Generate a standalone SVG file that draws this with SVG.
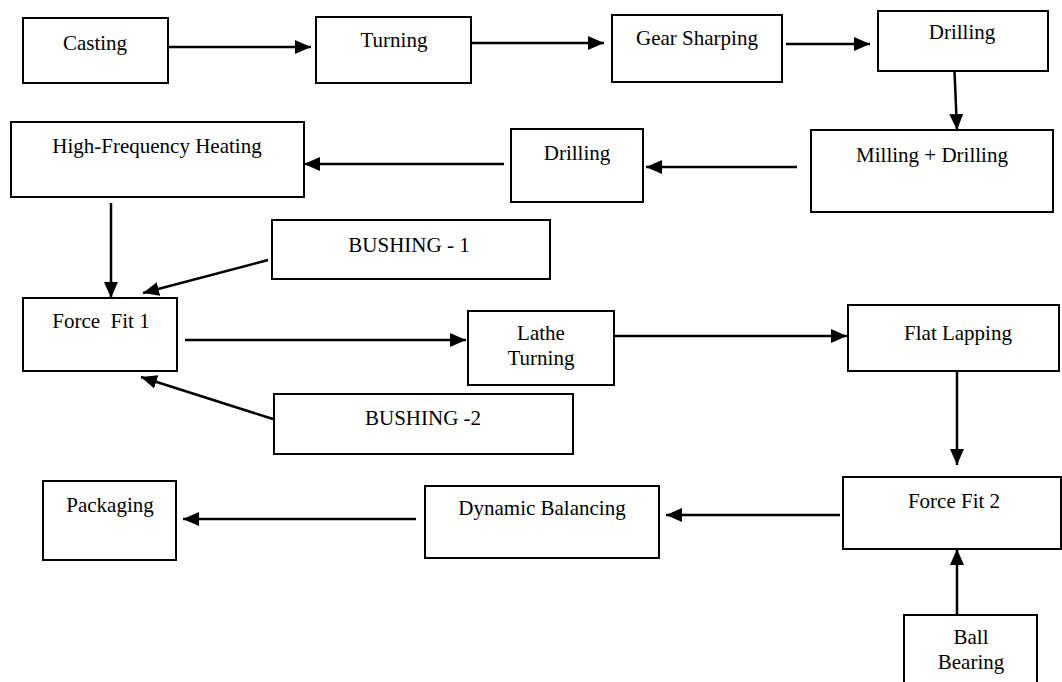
<svg xmlns="http://www.w3.org/2000/svg" width="1062" height="682" viewBox="0 0 1062 682">
  <style>
    .box { fill: #ffffff; stroke: #000000; stroke-width: 2; }
    .lbl { font-family: "Liberation Serif", "Times New Roman", serif; font-size: 21px; fill: #000000; text-anchor: middle; }
    .wire { stroke: #000000; stroke-width: 2.5; fill: none; marker-end: url(#head); }
  </style>
  <defs>
    <marker id="head" markerUnits="userSpaceOnUse" markerWidth="17" markerHeight="15" refX="16" refY="7" orient="auto">
      <path d="M0,0 L16,7 L0,14 Z" fill="#000000"/>
    </marker>
  </defs>
  <rect width="1062" height="682" fill="#ffffff"/>

  <!-- process steps -->
  <g id="casting">
    <rect class="box" x="23" y="18" width="145" height="65"/>
    <text class="lbl" x="95" y="50">Casting</text>
  </g>
  <g id="turning">
    <rect class="box" x="316" y="17" width="155" height="66"/>
    <text class="lbl" x="394" y="47">Turning</text>
  </g>
  <g id="gear-sharping">
    <rect class="box" x="612" y="15" width="170" height="67"/>
    <text class="lbl" x="697" y="45">Gear Sharping</text>
  </g>
  <g id="drilling-1">
    <rect class="box" x="878" y="11" width="170" height="60"/>
    <text class="lbl" x="962" y="39">Drilling</text>
  </g>
  <g id="milling-drilling">
    <rect class="box" x="811" y="130" width="242" height="82"/>
    <text class="lbl" x="932" y="162">Milling + Drilling</text>
  </g>
  <g id="drilling-2">
    <rect class="box" x="511" y="129" width="132" height="73"/>
    <text class="lbl" x="577" y="160">Drilling</text>
  </g>
  <g id="hf-heating">
    <rect class="box" x="11" y="122" width="293" height="75"/>
    <text class="lbl" x="157" y="153">High-Frequency Heating</text>
  </g>
  <g id="bushing-1">
    <rect class="box" x="272" y="220" width="278" height="59"/>
    <text class="lbl" x="409" y="252">BUSHING - 1</text>
  </g>
  <g id="force-fit-1">
    <rect class="box" x="23" y="298" width="154" height="73"/>
    <text class="lbl" x="101" y="328" xml:space="preserve">Force  Fit 1</text>
  </g>
  <g id="bushing-2">
    <rect class="box" x="274" y="394" width="299" height="60"/>
    <text class="lbl" x="423" y="425">BUSHING -2</text>
  </g>
  <g id="lathe-turning">
    <rect class="box" x="468" y="311" width="146" height="74"/>
    <text class="lbl" x="541" y="340">Lathe</text>
    <text class="lbl" x="541" y="365">Turning</text>
  </g>
  <g id="flat-lapping">
    <rect class="box" x="848" y="305" width="211" height="66"/>
    <text class="lbl" x="958" y="340">Flat Lapping</text>
  </g>
  <g id="force-fit-2">
    <rect class="box" x="843" y="477" width="218" height="72"/>
    <text class="lbl" x="954" y="508">Force Fit 2</text>
  </g>
  <g id="dynamic-balancing">
    <rect class="box" x="425" y="486" width="234" height="72"/>
    <text class="lbl" x="542" y="515">Dynamic Balancing</text>
  </g>
  <g id="packaging">
    <rect class="box" x="43" y="481" width="133" height="79"/>
    <text class="lbl" x="110" y="512">Packaging</text>
  </g>
  <g id="ball-bearing">
    <rect class="box" x="904" y="615" width="133" height="80"/>
    <text class="lbl" x="971" y="644">Ball</text>
    <text class="lbl" x="971" y="669">Bearing</text>
  </g>

  <!-- flow connectors -->
  <g id="connectors">
    <line class="wire" x1="168" y1="47" x2="311" y2="47"/>
    <line class="wire" x1="472" y1="43" x2="604" y2="43"/>
    <line class="wire" x1="786" y1="44" x2="870" y2="44"/>
    <line class="wire" x1="954.5" y1="71" x2="957" y2="130"/>
    <line class="wire" x1="797" y1="167" x2="646" y2="167"/>
    <line class="wire" x1="504" y1="164" x2="304" y2="164"/>
    <line class="wire" x1="111" y1="203" x2="111" y2="298"/>
    <line class="wire" x1="268" y1="260" x2="143" y2="293"/>
    <line class="wire" x1="273" y1="419" x2="141" y2="377"/>
    <line class="wire" x1="185" y1="340" x2="466" y2="340"/>
    <line class="wire" x1="614" y1="336" x2="847" y2="336"/>
    <line class="wire" x1="957" y1="371" x2="957" y2="465"/>
    <line class="wire" x1="840" y1="515" x2="666" y2="515"/>
    <line class="wire" x1="416" y1="519" x2="183" y2="519"/>
    <line class="wire" x1="957" y1="614" x2="957" y2="549"/>
  </g>
</svg>
